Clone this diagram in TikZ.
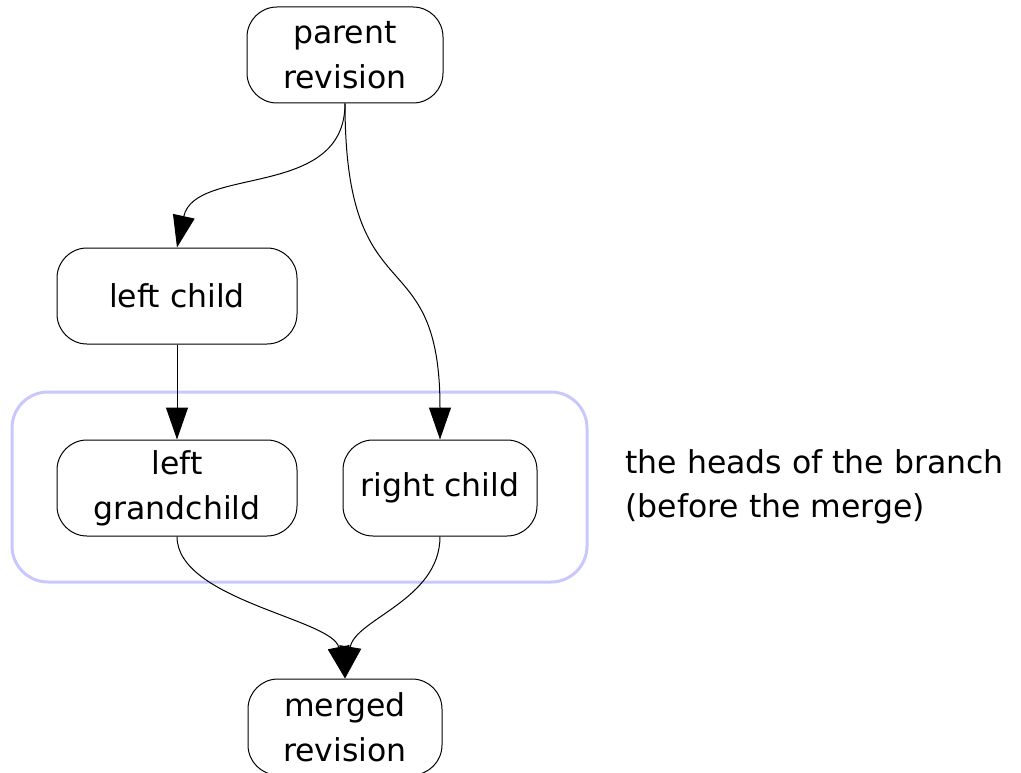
\documentclass[tikz,border=0pt]{standalone}
\usepackage{fontspec}
\setmainfont{DejaVu Sans}
\usetikzlibrary{arrows.meta}

\begin{document}
\begin{tikzpicture}[x=1pt, y=-1pt, line width=1pt,
        rev_style/.style={rectangle, rounded corners=30pt, draw=black, fill=white, align=center,
            minimum height=96pt, inner sep=2pt, font=\fontsize{31.5}{45}\selectfont},
        group_style/.style={rectangle, rounded corners=36pt, draw={rgb,255:red,200;green,200;blue,255},
            line width=3pt, minimum width=575pt, minimum height=190pt},
        edge_style/.style={draw=black, line width=1pt, -{Triangle[length=32pt,width=22pt]}}]

        \useasboundingbox (0,0) rectangle (1021,773);

        \node [group_style](heads) at (299.5,487) {};

        \node [rev_style, minimum width=196pt](parent) at (345,55) {parent\\revision};
        \node [rev_style, minimum width=240pt](left_child) at (177,296) {left child};
        \node [rev_style, minimum width=240pt](left_grandchild) at (177,488) {left\\grandchild};
        \node [rev_style, minimum width=194pt](right_child) at (440,488) {right child};
        \node [rev_style, minimum width=194pt](merged) at (345,727) {merged\\revision};

        \node [anchor=north west, align=left, inner sep=0pt, font=\fontsize{31.5}{44}\selectfont](heads_label) at (625,449)
            {the heads of the branch\\(before the merge)};

        \draw [edge_style] (parent.south) .. controls (345,200) and (195,165) .. (left_child.north);
        \draw [edge_style] (parent.south) .. controls (345,320) and (440,235) .. (right_child.north);
        \draw [edge_style] (left_child.south) -- (left_grandchild.north);
        \draw [edge_style] (left_grandchild.south) .. controls (177,600) and (333,619) .. (merged.north);
        \draw [edge_style] (right_child.south) .. controls (440,600) and (355,619) .. (merged.north);
\end{tikzpicture}
\end{document}
